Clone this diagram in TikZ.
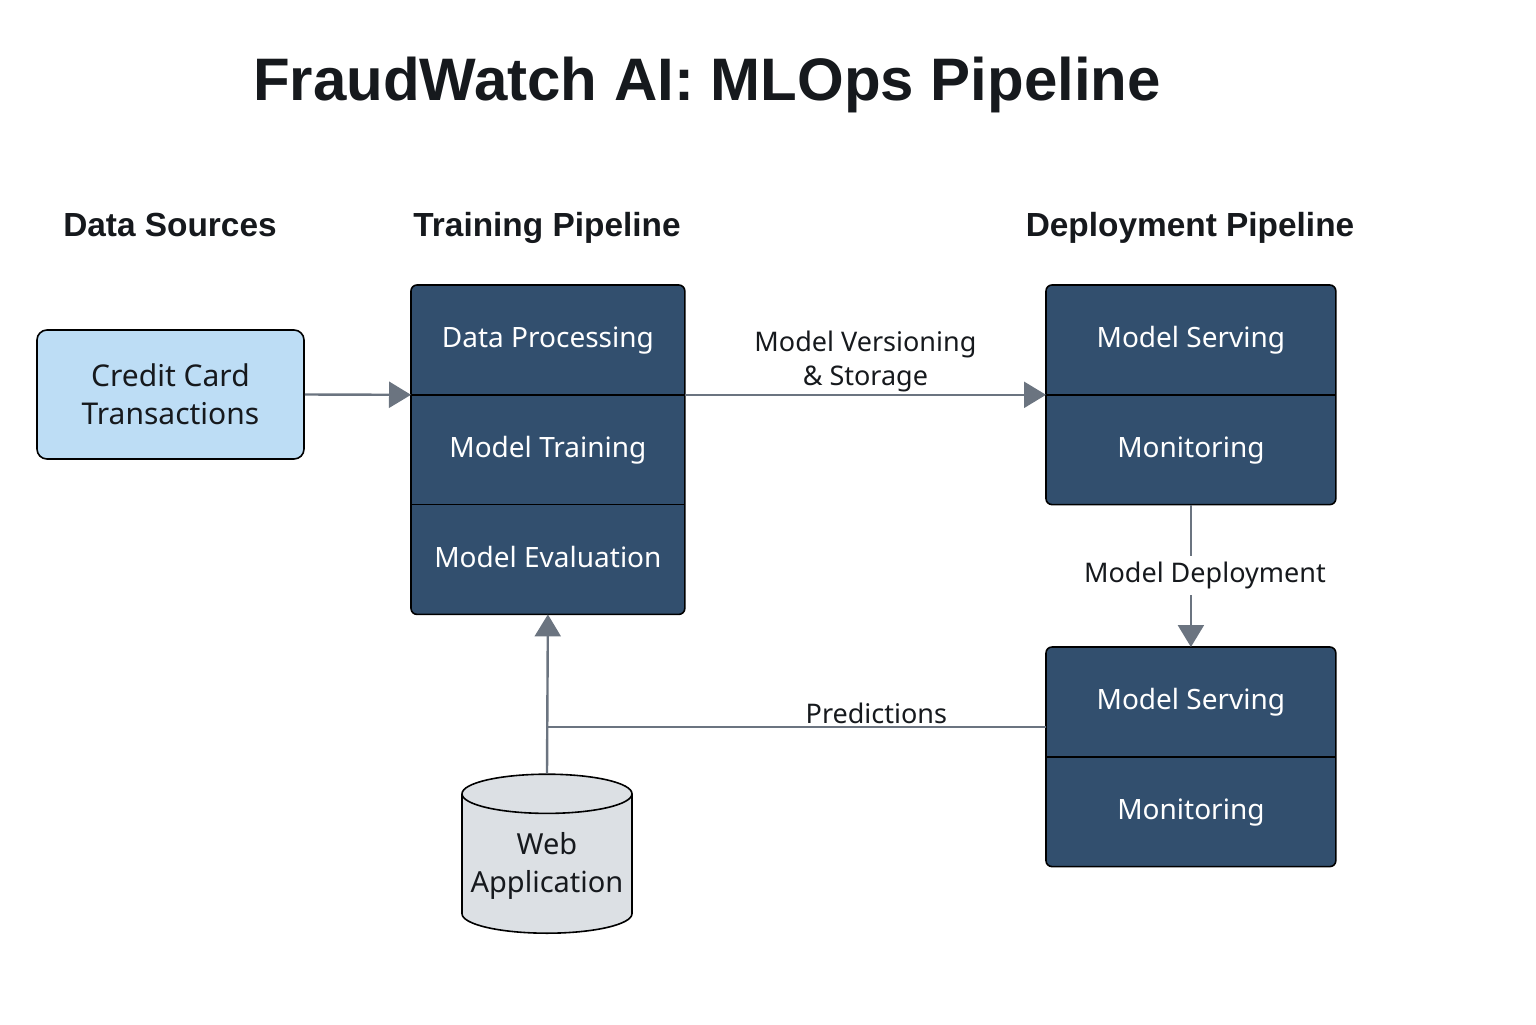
\documentclass[tikz,border=0pt]{standalone}
\usepackage{fontspec}
\setmainfont{Noto Sans}
\newfontfamily\headfont{Liberation Sans}
\usepackage{xcolor}
\usepackage{tikz}
\usetikzlibrary{positioning,calc,shapes.geometric,arrows.meta,backgrounds}
\definecolor{PipeBlue}{HTML}{324F6E}
\definecolor{SrcBlue}{HTML}{BDDDF5}
\definecolor{WebGray}{HTML}{DCE0E4}
\definecolor{FlowGray}{HTML}{6B7480}
\definecolor{InkBlack}{HTML}{16191D}
\tikzset{
    cell/.style={rectangle, minimum width=136.5pt, minimum height=54.5pt, inner sep=0pt, text height=10.5pt, text depth=3pt, text=white, font=\fontsize{14}{16}\selectfont},
    stackframe/.style={draw=black, line width=0.8pt, fill=PipeBlue, rounded corners=3pt},
    divider/.style={draw=black, line width=0.8pt},
    flow/.style={draw=FlowGray, line width=1.2pt},
    flowarrow/.style={flow, -{Triangle[length=11pt,width=13pt]}},
    header/.style={anchor=base, font=\headfont\bfseries\fontsize{16.7}{20}\selectfont, text=InkBlack},
    flowlabel/.style={font=\fontsize{13.5}{17}\selectfont, text=InkBlack, align=center, inner sep=1pt}
}

\begin{document}
\begin{tikzpicture}[
        x=0.5pt, y=-0.5pt,
        % box for the data source
        srcbox/.style={
            rectangle,
            draw=black,
            line width=0.8pt,
            fill=SrcBlue,
            rounded corners=5pt,
            minimum width=133.5pt,
            minimum height=64.5pt,
            align=center,
            text=InkBlack,
            font=\fontsize{15}{19}\selectfont
        },
        % web application cylinder
        webdb/.style={
            cylinder,
            shape border rotate=90,
            aspect=0.25,
            draw=black,
            line width=0.8pt,
            fill=WebGray,
            minimum width=85pt,
            minimum height=79.5pt,
            align=center,
            inner sep=1pt,
            text=InkBlack,
            font=\fontsize{14.5}{19}\selectfont
        }
    ]
        \useasboundingbox (0,0) rectangle (1536,1024);

        % --- TITLE AND HEADERS ---
        \node[font=\headfont\bfseries\fontsize{30}{36}\selectfont, text=InkBlack] (title) at (707,85) {FraudWatch AI: MLOps Pipeline};
        \node[header] (hsrc) at (170,236) {Data Sources};
        \node[header] (htrain) at (547,236) {Training Pipeline};
        \node[header] (hdeploy) at (1190,236) {Deployment Pipeline};

        % --- DATA SOURCE ---
        \node[srcbox] (src) at (170.5,394.5) {Credit Card\\Transactions};

        % --- TRAINING PIPELINE ---
        \node[cell, anchor=north west] (dp) at (411,285) {Data Processing};
        \node[cell, below=0pt of dp] (mt) {Model Training};
        \node[cell, below=0pt of mt] (me) {Model Evaluation};

        % --- DEPLOYMENT PIPELINE ---
        \node[cell, minimum width=144.5pt, anchor=north west] (ms1) at (1046,285) {Model Serving};
        \node[cell, minimum width=144.5pt, below=0pt of ms1] (mon1) {Monitoring};
        \node[cell, minimum width=144.5pt, anchor=north west] (ms2) at (1046,647) {Model Serving};
        \node[cell, minimum width=144.5pt, below=0pt of ms2] (mon2) {Monitoring};

        % frames and dividers of the stacks
        \begin{scope}[on background layer]
            \draw[stackframe] (dp.north west) rectangle (me.south east);
            \draw[stackframe] (ms1.north west) rectangle (mon1.south east);
            \draw[stackframe] (ms2.north west) rectangle (mon2.south east);
        \end{scope}
        \draw[divider] (dp.south west) -- (dp.south east);
        \draw[divider] (mt.south west) -- (mt.south east);
        \draw[divider] (ms1.south west) -- (ms1.south east);
        \draw[divider] (ms2.south west) -- (ms2.south east);

        % --- WEB APPLICATION ---
        \node[webdb] (web) at (547,866) {Web\\Application};

        % --- CONNECTORS ---
        \draw[flowarrow] (src.east) -- (dp.south west);
        \draw[flowarrow] (dp.south east) -- (ms1.south west)
            node[flowlabel, midway, above] {Model Versioning\\\& Storage};
        \draw[flowarrow] (mon1.south) -- (ms2.north)
            node[flowlabel, midway, fill=white, xshift=7pt, inner sep=3pt] {Model Deployment};
        \coordinate (predin) at ([yshift=15pt]ms2.south west);
        \draw[flow] (predin) -- (predin -| web.north)
            node[flowlabel, pos=0.34, above] {Predictions};
        \draw[flowarrow] (web.north) -- (me.south);

    \end{tikzpicture}
\end{document}
